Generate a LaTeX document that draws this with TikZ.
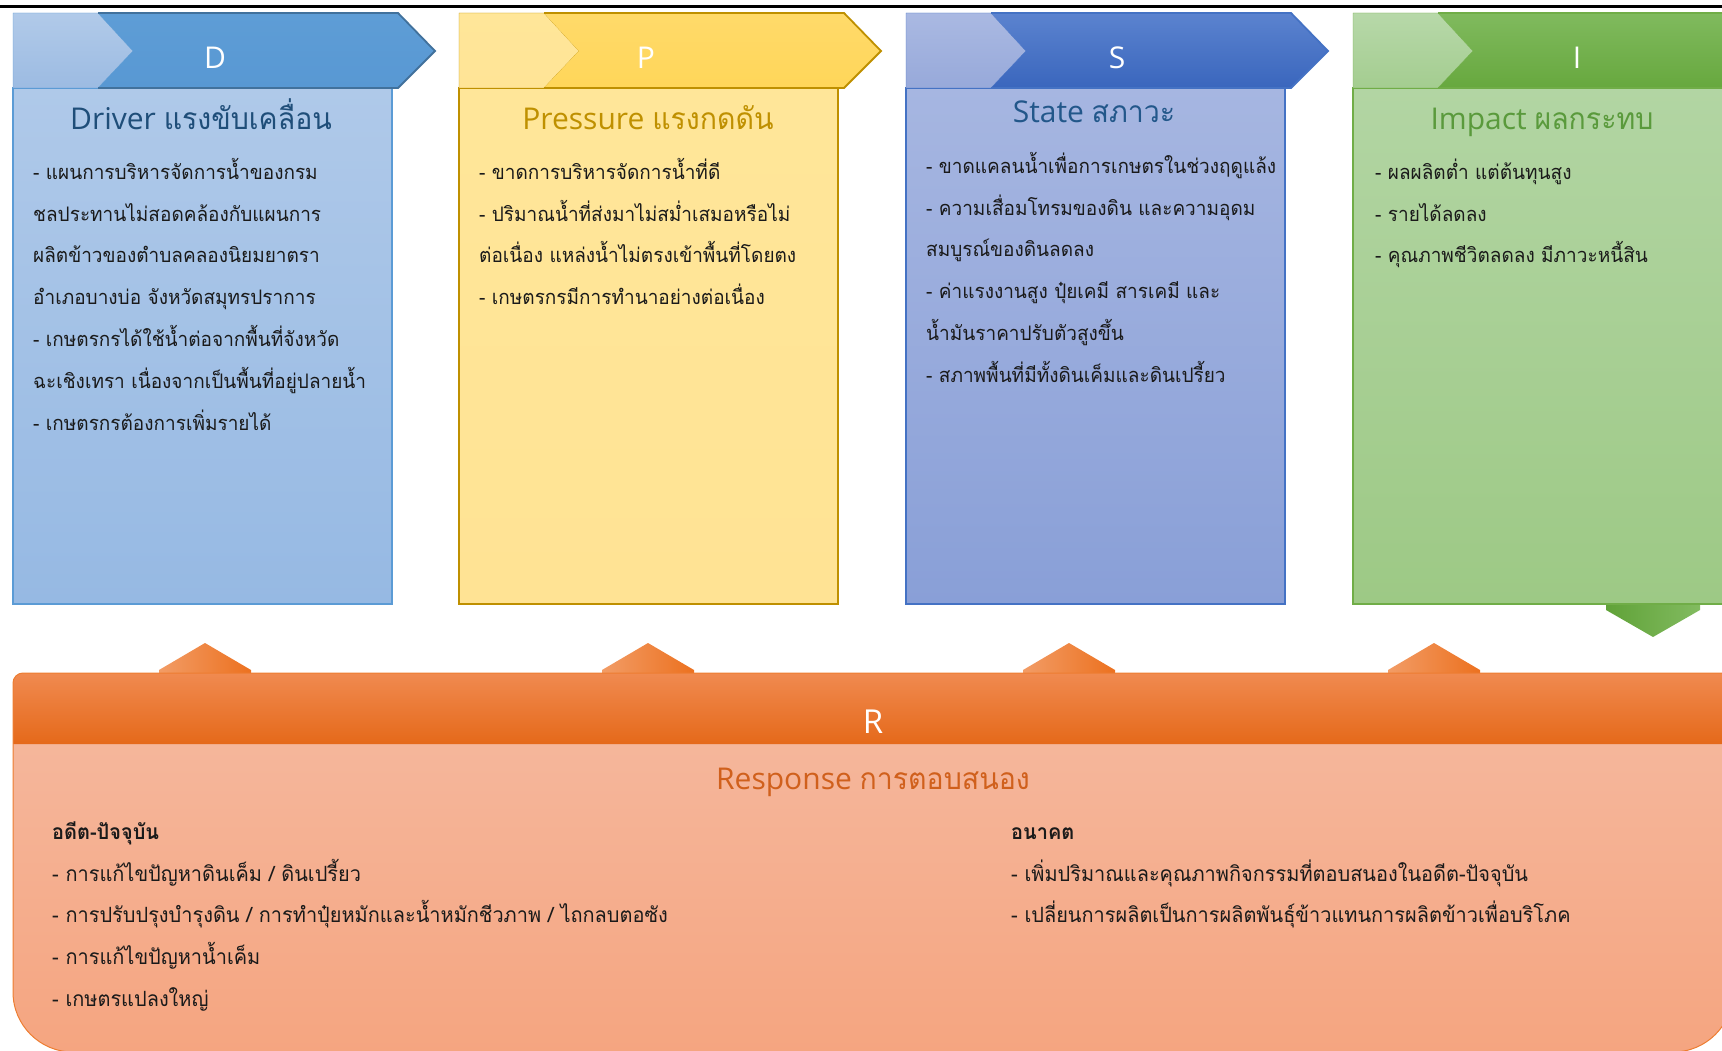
\documentclass[tikz,border=0pt]{standalone}
\usepackage{fontspec}
\setmainfont{Open Sans}
\newfontfamily\thaif[Script=Thai,FakeStretch=0.95]{Loma}
\newcommand{\hdstrut}{\rule{0pt}{26pt}}
% panel colours: header band, chevron, body
\definecolor{hdtopD}{HTML}{B1CAE9}\definecolor{hdbotD}{HTML}{9CBBE2}
\definecolor{cvtopD}{HTML}{5E9DD6}\definecolor{cvbotD}{HTML}{5898D3}\definecolor{cvlnD}{HTML}{41719C}
\definecolor{bdtopD}{HTML}{AFC9E9}\definecolor{bdbotD}{HTML}{96B9E3}\definecolor{bdlnD}{HTML}{5B9BD5}
\definecolor{hdtopP}{HTML}{FFE699}\definecolor{hdbotP}{HTML}{FFE496}
\definecolor{cvtopP}{HTML}{FFDA6A}\definecolor{cvbotP}{HTML}{FFD659}\definecolor{cvlnP}{HTML}{BF9000}
\definecolor{bdtopP}{HTML}{FFE699}\definecolor{bdbotP}{HTML}{FFE394}\definecolor{bdlnP}{HTML}{BF9000}
\definecolor{hdtopS}{HTML}{AAB9E2}\definecolor{hdbotS}{HTML}{97A9DA}
\definecolor{cvtopS}{HTML}{5B83CF}\definecolor{cvbotS}{HTML}{3A66BD}\definecolor{cvlnS}{HTML}{4472C4}
\definecolor{bdtopS}{HTML}{A6B6E1}\definecolor{bdbotS}{HTML}{899FD7}\definecolor{bdlnS}{HTML}{4472C4}
\definecolor{hdtopI}{HTML}{B7D8A9}\definecolor{hdbotI}{HTML}{A4CD90}
\definecolor{cvtopI}{HTML}{80BA5E}\definecolor{cvbotI}{HTML}{67A83E}\definecolor{cvlnI}{HTML}{70AD47}
\definecolor{bdtopI}{HTML}{B2D5A3}\definecolor{bdbotI}{HTML}{9DC985}\definecolor{bdlnI}{HTML}{70AD47}
% response box
\definecolor{rhdtop}{HTML}{F08A50}\definecolor{rhdmid}{HTML}{F47B2A}\definecolor{rhdbot}{HTML}{E5691A}
\definecolor{rbdtop}{HTML}{F5BAA1}\definecolor{rbdbot}{HTML}{F5A580}\definecolor{rln}{HTML}{ED7D31}
\definecolor{arrl}{HTML}{F29C66}\definecolor{arrr}{HTML}{EC711F}
\definecolor{grnl}{HTML}{60A238}\definecolor{grnr}{HTML}{82BB60}
% text
\definecolor{txt}{HTML}{1A1A1A}
\definecolor{ttlD}{HTML}{1F4E79}\definecolor{ttlP}{HTML}{BF9000}
\definecolor{ttlS}{HTML}{22578A}\definecolor{ttlI}{HTML}{5A9A3C}\definecolor{ttlR}{HTML}{D0601C}

\begin{document}
\begin{tikzpicture}[x=1pt,y=-1pt,
  headtxt/.style={anchor=base,font=\fontsize{30}{36}\selectfont},
  letter/.style={anchor=base,text=white,font=\fontsize{30}{36}\selectfont},
  bodytxt/.style={anchor=north west,align=left,inner sep=0pt,text=txt,font=\thaif\fontsize{20}{41.8}\selectfont},
  resptxt/.style={bodytxt,font=\thaif\fontsize{21}{41.8}\selectfont}]
\useasboundingbox (0,0) rectangle (1722,1051);
\clip (0,0) rectangle (1722,1051);

\draw[line width=3pt] (0,6.5) -- (1722,6.5);

% arrows behind the boxes
\foreach \ax in {205,648,1069,1434}
  \shade[left color=arrl,right color=arrr] (\ax-46,680) -- (\ax-46,670) -- (\ax,643) -- (\ax+46,670) -- (\ax+46,680) -- cycle;
\shade[left color=grnl,right color=grnr] (1606,600) -- (1606,610) -- (1653,637) -- (1700,610) -- (1700,600) -- cycle;

% the four panels
\foreach \L/\p in {13/D,459/P,906/S,1353/I}{
  \shade[top color=bdtop\p,bottom color=bdbot\p] (\L,88) rectangle (\L+379,604);
  \draw[bdln\p,line width=1.2pt] (\L,88) rectangle (\L+379,604);
  \shade[top color=hdtop\p,bottom color=hdbot\p,draw=bdln\p] (\L,13) -- (\L+85,13) -- (\L+120,51) -- (\L+85,88) -- (\L,88) -- cycle;
  \shade[top color=cvtop\p,bottom color=cvbot\p] (\L+85,13) -- (\L+385,13) -- (\L+422,51) -- (\L+385,88) -- (\L+85,88) -- (\L+120,51) -- cycle;
  \draw[cvln\p,line width=1.8pt,line join=miter] (\L+85,13) -- (\L+385,13) -- (\L+422,51) -- (\L+385,88) -- (\L+85,88);
}

\node[letter] (dlet) at (215,69) {D};
\node[letter] (plet) at (646,69) {P};
\node[letter] (slet) at (1117,69) {S};
\node[letter] (ilet) at (1577,69) {I};

\node[headtxt,text=ttlD] (dttl) at (201,130) {Driver {\thaif แรงขับเคลื่อน}};
\node[headtxt,text=ttlP] (pttl) at (648,130) {Pressure {\thaif แรงกดดัน}};
\node[headtxt,text=ttlS] (sttl) at (1094,123) {State {\thaif สภาวะ}};
\node[headtxt,text=ttlI] (ittl) at (1542,130) {Impact {\thaif ผลกระทบ}};

\node[bodytxt] (dtxt) at (33,153) {\hdstrut- แผนการบริหารจัดการน้ำของกรม\\ชลประทานไม่สอดคล้องกับแผนการ\\ผลิตข้าวของตำบลคลองนิยมยาตรา\\อำเภอบางบ่อ จังหวัดสมุทรปราการ\\- เกษตรกรได้ใช้น้ำต่อจากพื้นที่จังหวัด\\ฉะเชิงเทรา เนื่องจากเป็นพื้นที่อยู่ปลายน้ำ\\- เกษตรกรต้องการเพิ่มรายได้};
\node[bodytxt] (ptxt) at (479,153) {\hdstrut- ขาดการบริหารจัดการน้ำที่ดี\\- ปริมาณน้ำที่ส่งมาไม่สม่ำเสมอหรือไม่\\ต่อเนื่อง แหล่งน้ำไม่ตรงเข้าพื้นที่โดยตง\\- เกษตรกรมีการทำนาอย่างต่อเนื่อง};
\node[bodytxt] (stxt) at (926,147) {\hdstrut- ขาดแคลนน้ำเพื่อการเกษตรในช่วงฤดูแล้ง\\- ความเสื่อมโทรมของดิน และความอุดม\\สมบูรณ์ของดินลดลง\\- ค่าแรงงานสูง ปุ๋ยเคมี สารเคมี และ\\น้ำมันราคาปรับตัวสูงขึ้น\\- สภาพพื้นที่มีทั้งดินเค็มและดินเปรี้ยว};
\node[bodytxt] (itxt) at (1375,153) {\hdstrut- ผลผลิตต่ำ แต่ต้นทุนสูง\\- รายได้ลดลง\\- คุณภาพชีวิตลดลง มีภาวะหนี้สิน};

% response box
\shade[top color=rbdtop,bottom color=rbdbot] (13,992) -- (13,683) arc (180:270:10) -- (1733,673) -- (1733,992) arc (0:90:60) -- (73,1052) arc (90:180:60) -- cycle;
\shade[top color=rhdtop,middle color=rhdmid,bottom color=rhdbot] (13,744) -- (13,683) arc (180:270:10) -- (1733,673) -- (1733,744) -- cycle;
\draw[rln,line width=1pt] (13,992) -- (13,683) arc (180:270:10) -- (1733,673) -- (1733,992) arc (0:90:60) -- (73,1052) arc (90:180:60) -- cycle;

\node[letter,font=\fontsize{33}{40}\selectfont] (rlet) at (873,733) {R};
\node[headtxt,text=ttlR] (rttl) at (873,789) {Response {\thaif การตอบสนอง}};
\node[resptxt] (rpast) at (52,813) {\hdstrut\textbf{อดีต-ปัจจุบัน}\\- การแก้ไขปัญหาดินเค็ม / ดินเปรี้ยว\\- การปรับปรุงบำรุงดิน / การทำปุ๋ยหมักและน้ำหมักชีวภาพ / ไถกลบตอซัง\\- การแก้ไขปัญหาน้ำเค็ม\\- เกษตรแปลงใหญ่};
\node[resptxt] (rfut) at (1011,813) {\hdstrut\textbf{อนาคต}\\- เพิ่มปริมาณและคุณภาพกิจกรรมที่ตอบสนองในอดีต-ปัจจุบัน\\- เปลี่ยนการผลิตเป็นการผลิตพันธุ์ข้าวแทนการผลิตข้าวเพื่อบริโภค};
\end{tikzpicture}
\end{document}
